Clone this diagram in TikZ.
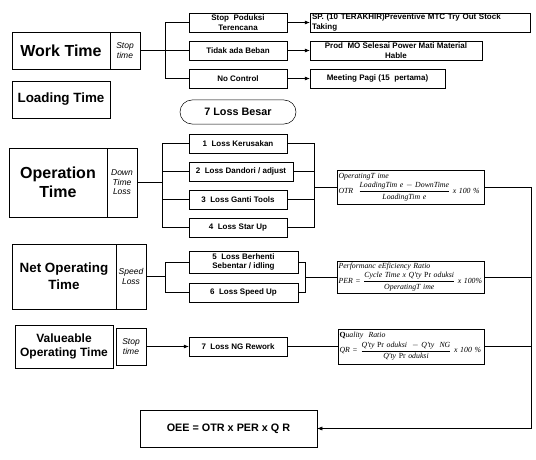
\documentclass[tikz,border=0pt]{standalone}
\usepackage{amsmath}
\usepackage{fontspec}
\setmainfont{Liberation Sans}
\newfontfamily\formfont{Liberation Serif}
\usetikzlibrary{arrows.meta}

\begin{document}
\begin{tikzpicture}[x=1pt, y=-1pt, line width=0.5pt,
    box/.style={draw, inner sep=1pt, align=center, minimum height=19pt, font=\fontsize{8}{9.6}\selectfont\bfseries},
    bigbox/.style={draw, inner sep=2pt, align=center, font=\fontsize{16}{19}\selectfont\bfseries},
    tagbox/.style={draw, inner sep=0pt, align=center, minimum width=30pt, font=\fontsize{8.5}{9.5}\selectfont\itshape},
    formbox/.style={draw, inner sep=1.5pt, align=left, minimum width=147pt, text width=144pt, font=\fontsize{7.8}{9.5}\selectfont\formfont\itshape},
    arr/.style={-{Latex[length=5pt, width=4pt]}}]
        \useasboundingbox (0,0) rectangle (536,460);

        % stop time
        \node[bigbox, minimum width=98pt, minimum height=37pt] (work) at (61,50.5) {Work Time};
        \node[tagbox, minimum height=37pt] (workstop) at (125,50.5) {Stop\\time};
        \node[bigbox, font=\fontsize{13.4}{16}\selectfont\bfseries, minimum width=98pt, minimum height=37pt] (load) at (61,99.5) {Loading Time};

        \node[box, minimum width=98pt] (stop1) at (238,22.5) {Stop\ \ Poduksi\\Terencana};
        \node[box, minimum width=98pt] (stop2) at (238,50.5) {Tidak ada Beban};
        \node[box, minimum width=98pt] (stop3) at (238,78.5) {No Control};

        \node[box, align=left, minimum width=220pt, text width=216pt] (cause1) at (420,22.5) {SP. (10 TERAKHIR)Preventive MTC Try Out Stock\\Taking};
        \node[box, minimum width=172pt] (cause2) at (396,50.5) {Prod\ \ MO Selesai Power Mati Material\\Hable};
        \node[box, minimum width=135pt] (cause3) at (377.5,78.5) {Meeting Pagi (15\ \ pertama)};

        \draw (workstop.east) -- (stop2.west);
        \draw (stop1.west) -- ++(-24,0) |- (stop3.west);
        \draw[arr] (stop1.east) -- (cause1.west);
        \draw[arr] (stop2.east) -- (cause2.west);
        \draw[arr] (stop3.east) -- (cause3.west);

        \node[draw, rounded corners=12pt, minimum width=116pt, minimum height=24pt, font=\fontsize{10.8}{13}\selectfont\bfseries] (besar) at (238,112) {7 Loss Besar};

        % down time loss
        \node[bigbox, minimum width=98pt, minimum height=69pt] (oper) at (58,182.5) {Operation\\Time};
        \node[tagbox, minimum height=69pt] (down) at (122,182.5) {Down\\Time\\Loss};

        \node[box, minimum width=98pt] (loss1) at (238,143.5) {1\ \ Loss Kerusakan};
        \node[box, minimum width=104pt] (loss2) at (241,171.5) {2\ \ Loss Dandori / adjust};
        \node[box, minimum width=98pt] (loss3) at (238,199.5) {3\ \ Loss Ganti Tools};
        \node[box, minimum width=98pt] (loss4) at (238,227.5) {4\ \ Loss Star Up};

        \node[formbox, minimum height=34pt] (otr) at (410.5,187) {OperatingT ime\\[1.5pt]\mbox{OTR\ \ $\dfrac{\hbox{LoadingTim e $-$ DownTime}}{\hbox{LoadingTim e}}$ x 100 \%}};

        \coordinate (downjoin) at (162,182.5);
        \coordinate (otrjoin) at (314,187);
        \draw (down.east) -- (downjoin);
        \draw (loss1.west) -- (loss1.west -| downjoin) -- (loss4.west -| downjoin) -- (loss4.west);
        \draw (loss2.west) -- (loss2.west -| downjoin);
        \draw (loss3.west) -- (loss3.west -| downjoin);
        \draw (loss1.east) -- (loss1.east -| otrjoin) -- (loss4.east -| otrjoin) -- (loss4.east);
        \draw (loss2.east) -- (loss2.east -| otrjoin);
        \draw (loss3.east) -- (loss3.east -| otrjoin);
        \draw (otrjoin) -- (otr.west);

        % speed loss
        \node[bigbox, font=\fontsize{13.4}{17}\selectfont\bfseries, minimum width=104pt, minimum height=65pt] (netop) at (64,276.5) {Net Operating\\Time};
        \node[tagbox, minimum height=65pt] (speed) at (131,276.5) {Speed\\Loss};

        \node[box, minimum width=109pt, minimum height=22pt] (loss5) at (243.5,262) {5\ \ Loss Berhenti\\Sebentar / idling};
        \node[box, minimum width=109pt] (loss6) at (243.5,292.5) {6\ \ Loss Speed Up};

        \node[formbox, minimum height=32pt] (per) at (410.5,277) {Performanc eEficiency Ratio\\[1.5pt]\mbox{PER = $\dfrac{\hbox{Cycle Time x Q'ty {\upshape Pr} oduksi}}{\hbox{OperatingT ime}}$ x 100\%}};

        \coordinate (speedjoin) at (165,276.5);
        \coordinate (perjoin) at (305,277);
        \draw (speed.east) -- (speedjoin);
        \draw (loss5.west) -- (loss5.west -| speedjoin) -- (loss6.west -| speedjoin) -- (loss6.west);
        \draw (loss5.east) -- (loss5.east -| perjoin) -- (loss6.east -| perjoin) -- (loss6.east);
        \draw (perjoin) -- (per.west);

        % quality
        \node[bigbox, font=\fontsize{12}{14.5}\selectfont\bfseries, minimum width=98pt, minimum height=43pt] (value) at (64,346.5) {Valueable\\Operating Time};
        \node[tagbox, minimum height=37pt] (valstop) at (131,346.5) {Stop\\time};
        \node[box, minimum width=98pt] (loss7) at (238,346.5) {7\ \ Loss NG Rework};

        \node[formbox, minimum width=146pt, text width=143pt, minimum height=35pt] (qr) at (411,346.5) {{\upshape\bfseries Q}uality\ \ Ratio\\[1.5pt]\mbox{QR = $\dfrac{\hbox{Q'ty {\upshape Pr} oduksi\ \ $-$ Q'ty\ \ NG}}{\hbox{Q'ty {\upshape Pr} oduksi}}$ x 100 \%}};

        \draw[arr] (valstop.east) -- (loss7.west);
        \draw (loss7.east) -- (qr.west);

        % OEE
        \node[draw, minimum width=177pt, minimum height=37pt, font=\fontsize{10.8}{13}\selectfont\bfseries] (oee) at (228.5,428.5) {OEE = OTR x PER x Q R};

        \coordinate (sumtop) at (531,187);
        \coordinate (sumbot) at (531,428.5);
        \draw (otr.east) -- (sumtop) -- (sumbot);
        \draw (per.east) -- (per.east -| sumtop);
        \draw (qr.east) -- (qr.east -| sumtop);
        \draw[arr] (sumbot) -- (oee.east);
      \end{tikzpicture}
\end{document}
